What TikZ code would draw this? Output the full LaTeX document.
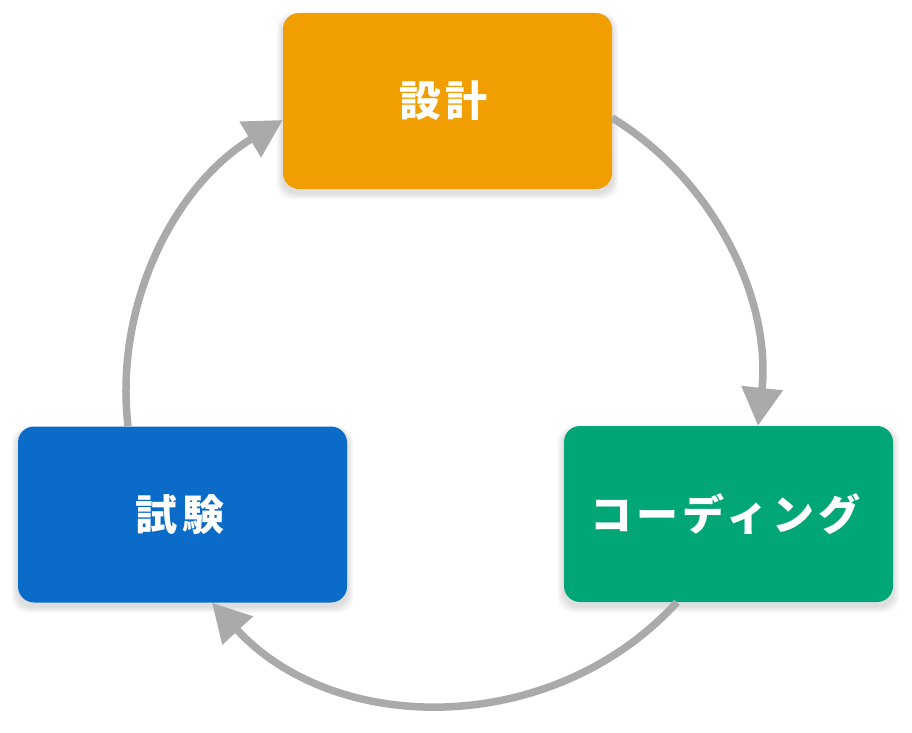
\documentclass[tikz,border=0pt]{standalone}
\usepackage{fontspec}
\newfontfamily\jp{Noto Sans CJK JP}[LetterSpace=10]
\usetikzlibrary{arrows.meta,backgrounds}
\definecolor{cOrange}{HTML}{F09E00}
\definecolor{cGreen}{HTML}{00A676}
\definecolor{cBlue}{HTML}{0A6CC8}
\definecolor{cGray}{HTML}{AAAAAA}
\begin{document}
\begin{tikzpicture}[x=1pt,y=1pt,
  box/.style={rounded corners=16pt, minimum width=329pt, minimum height=176pt,
    inner sep=0pt, text=white, font=\jp\bfseries\fontsize{42}{50}\selectfont},
  arr/.style={draw=cGray, line width=7.5pt, -{Triangle[length=38pt,width=40pt]}}]
\useasboundingbox (0,0) rectangle (912,732);
\node[box,fill=cOrange] (design) at (447.5,631) {設計\kern8pt};
\node[box,fill=cGreen] (code) at (728.5,218) {コーディング\kern6pt};
\node[box,fill=cBlue] (test) at (182.5,217.5) {試験\kern5pt};
\begin{scope}[on background layer]
  \foreach \n in {design,code,test}{
    \foreach \i in {1,...,8}{
      \fill[black,opacity=0.014,rounded corners=16pt]
        ([shift={(-\i*0.8pt,-\i*0.8pt-4pt)}]\n.south west) rectangle
        ([shift={(\i*0.8pt,\i*0.5pt-4pt)}]\n.north east);
    }
  }
\end{scope}
\draw[arr] ([yshift=-17pt]design.east) to[out=-31.5, in=83.8, looseness=0.93] ([xshift=29.5pt]code.north);
\draw[arr] ([xshift=-51.5pt]code.south) to[out=-132.5, in=-47.3, looseness=1.01] ([xshift=29.5pt]test.south);
\draw[arr] ([xshift=-54.5pt]test.north) to[out=96.5, in=-149, looseness=0.93] ([yshift=-19pt]design.west);
\end{tikzpicture}
\end{document}
